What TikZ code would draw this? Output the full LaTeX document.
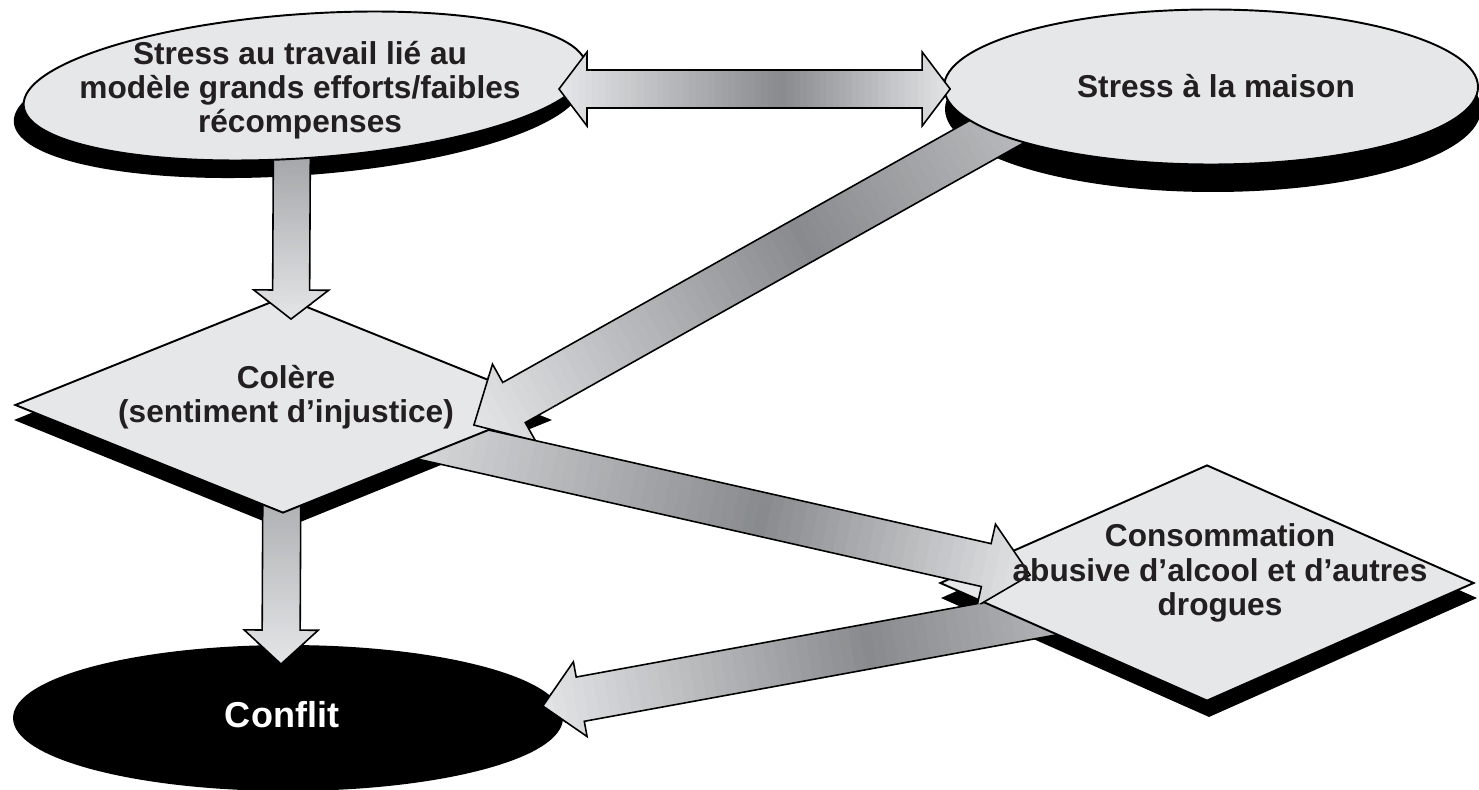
\documentclass[tikz,border=0pt]{standalone}
\usepackage{fontspec}
\setmainfont{Liberation Sans}
\usetikzlibrary{calc}
\usetikzlibrary{shapes.geometric}
\pgfdeclarelayer{shadows}
\pgfdeclarelayer{arrows}
\pgfdeclarelayer{heads}
\pgfdeclarelayer{labels}
\pgfsetlayers{shadows,arrows,main,heads,labels}
\definecolor{shapegray}{RGB}{230,231,232}
\definecolor{arrowlight}{RGB}{229,230,232}
\definecolor{arrowdark}{RGB}{136,138,141}
\definecolor{inkgray}{RGB}{35,31,32}
\def\unitpx{0.02cm}
\tikzset{bubble/.style={ellipse, draw=black, line width=1.1pt, fill=shapegray, inner sep=0pt}}
\tikzset{choice/.style={diamond, draw=black, line width=1.1pt, fill=shapegray, inner sep=0pt}}
\tikzset{labeltext/.style={align=center, text=inkgray, font=\bfseries\fontsize{18}{19.5}\selectfont}}
\tikzset{dropfill/.style={fill=black}}
\tikzset{arrowline/.style={draw=black, line width=0.9pt, line join=miter}}

% angle, length and neck of a block arrow from #1 to #2, head length #3
\newcommand\arrowframe[3]{%
  \path (#1); \pgfgetlastxy{\tailx}{\taily}%
  \path (#2); \pgfgetlastxy{\tipx}{\tipy}%
  \pgfmathsetmacro\arrang{atan2((\tipy)-(\taily),(\tipx)-(\tailx))}%
  \pgfmathsetmacro\arrlen{veclen((\tipx)-(\tailx),(\tipy)-(\taily))/0.569055}%
  \pgfmathsetmacro\arrneck{\arrlen-#3}}

% grey bands along the arrow: darkest point #1, darkness at the tail #2, outline #3
\newcommand\arrowfill[3]{%
  \begin{scope}
    \path[clip] #3;
    \foreach \k in {0,...,59}{
      \pgfmathsetmacro\arrpos{\k/60}
      \pgfmathsetmacro\arrmix{\arrpos<(#1) ? #2+(100-#2)*\arrpos/(#1) : 100*(1-\arrpos)/(1-(#1))}
      \fill[arrowdark!\arrmix!arrowlight] (\arrpos*\arrlen,-60) rectangle ({(\arrpos+1/60)*\arrlen+1},60);
    }
  \end{scope}
  \draw[arrowline] #3;}

% tail, tip, shaft half width, head half width, head length, darkest point, tail darkness
\newcommand\blockarrow[7]{%
  \arrowframe{#1}{#2}{#5}%
  \begin{scope}[shift={(#1)}, rotate=\arrang]
    \arrowfill{#6}{#7}{(0,#3) -- (\arrneck,#3) -- (\arrneck,#4) -- (\arrlen,0)
      -- (\arrneck,-#4) -- (\arrneck,-#3) -- (0,-#3) -- cycle}
  \end{scope}}

\newcommand\twowayarrow[6]{%
  \arrowframe{#1}{#2}{#5}%
  \begin{scope}[shift={(#1)}, rotate=\arrang]
    \arrowfill{#6}{0}{(0,0) -- (#5,#4) -- (#5,#3) -- (\arrneck,#3) -- (\arrneck,#4) -- (\arrlen,0)
      -- (\arrneck,-#4) -- (\arrneck,-#3) -- (#5,-#3) -- (#5,-#4) -- cycle}
  \end{scope}}

% clip to an ellipse node and its border, tilted or not
\newcommand\clipbubble[1]{%
  \path[clip] let \p1=($(#1.east)-(#1.center)$), \p2=($(#1.north)-(#1.center)$),
    \n1={veclen(\x1,\y1)+2pt}, \n2={veclen(\x2,\y2)+2pt}, \n3={atan2(\y1,\x1)} in
    [rotate around={\n3:(#1.center)}] (#1.center) ellipse [x radius=\n1, y radius=\n2];}

% clip to a diamond node and its border
\newcommand\clipchoice[1]{%
  \clip ($(#1.north)+(0,-4)$) -- ($(#1.east)+(6,0)$) -- ($(#1.south)+(0,4)$) -- ($(#1.west)+(-6,0)$) -- cycle;}

\begin{document}
\begin{tikzpicture}[x=\unitpx, y=-\unitpx]
\useasboundingbox (0,0) rectangle (1479,790);

% boxes
\node (work) [bubble, rotate=4, minimum width=564*\unitpx, minimum height=144*\unitpx] at (305,86) {};
\node (home) [bubble, minimum width=534*\unitpx, minimum height=155*\unitpx] at (1211,87) {};
\node (colere) [choice, minimum width=536*\unitpx, minimum height=216*\unitpx] at (283,405) {};
\node (use) [choice, minimum width=534*\unitpx, minimum height=236*\unitpx] at (1207,583) {};
\node (conflit) [bubble, fill=black, minimum width=548*\unitpx, minimum height=144*\unitpx] at (288,718) {};

\begin{pgfonlayer}{labels}
\node (work text) [labeltext] at (300,90) {Stress au travail lié au\\modèle grands efforts/faibles\\récompenses};
\node (home text) [labeltext] at (1216,86) {Stress à la maison};
\node (colere text) [labeltext] at (286,397) {Colère\\(sentiment d’injustice)};
\node (use text) [labeltext] at (1220,573) {Consommation\\abusive d’alcool et d’autres\\drogues};
\node (conflit text) [labeltext, text=white, font=\bfseries\fontsize{20.5}{22}\selectfont] at (282,715) {Conflit};
\end{pgfonlayer}

% shadows
\begin{pgfonlayer}{shadows}
\fill[dropfill, rotate around={4:(work.center)}] ($(work.center)+(-8,16)$) ellipse [x radius=285, y radius=73];
\fill[dropfill] ($(home.center)+(2,22)$) ellipse [x radius=268, y radius=83];
\fill[dropfill] ($(colere.north)+(0,15)$) -- ($(colere.east)+(0,15)$)
  -- ($(colere.south)+(0,15)$) -- ($(colere.west)+(0,15)$) -- cycle;
\fill[dropfill] ($(use.north)+(2,15)$) -- ($(use.east)+(2,15)$)
  -- ($(use.south)+(2,15)$) -- ($(use.west)+(2,15)$) -- cycle;
\end{pgfonlayer}

% arrows
\def\workarrow{\blockarrow{$(work.center)+(-13,36)$}{$(colere.north)+(8,23)$}{18.5}{37.5}{29}{-0.2}{0}}
\def\homearrow{\blockarrow{$(home.center)+(-197,35)$}{$(colere.east)+(-78,20)$}{23}{44}{46}{0.38}{50}}
\def\angerarrow{\blockarrow{$(colere.south)+(-1,-60)$}{$(conflit.north)+(-7,19)$}{19}{37}{34}{-0.34}{0}}
\def\spillarrow{\blockarrow{$(colere.center)+(66,16)$}{$(use.west)+(91,-8)$}{22}{42}{45}{0.6}{0}}
\def\drugarrow{\blockarrow{$(use.center)+(-25,6)$}{$(conflit.east)+(-20,-12)$}{22.5}{38}{38}{0.48}{26}}
\def\bothways{\twowayarrow{$(work.center)+(254,3)$}{$(home.west)+(7,2)$}{19}{37}{28}{0.56}}

\begin{pgfonlayer}{arrows}
\workarrow
\homearrow
\angerarrow
\spillarrow
\drugarrow
\bothways
\end{pgfonlayer}

% heads over the boxes they point at
\begin{pgfonlayer}{heads}
\begin{scope}
  \clipchoice{colere}
  \workarrow
  \homearrow
\end{scope}
\begin{scope}
  \clipchoice{use}
  \spillarrow
\end{scope}
\begin{scope}
  \clipbubble{conflit}
  \angerarrow
  \drugarrow
\end{scope}
\begin{scope}
  \clipbubble{work}
  \bothways
\end{scope}
\begin{scope}
  \clipbubble{home}
  \bothways
\end{scope}
\end{pgfonlayer}
\end{tikzpicture}
\end{document}
